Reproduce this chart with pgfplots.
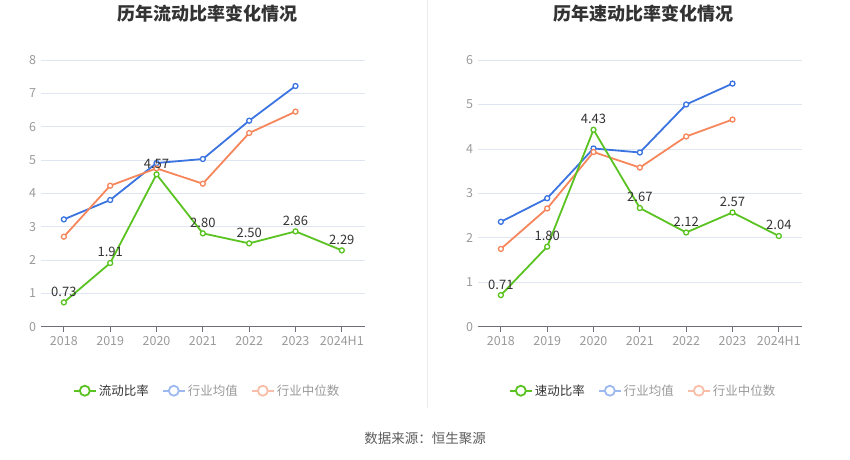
\documentclass[border=0pt]{standalone}
\usepackage{pgfplots}
\pgfplotsset{compat=1.18}
\usepackage{fontspec}
\setmainfont{Noto Sans CJK SC}

\definecolor{cgreen}{HTML}{5AC322}
\definecolor{cblue}{HTML}{3B74E0}
\definecolor{corange}{HTML}{F6865B}
\definecolor{cblueL}{HTML}{9DB9F0}
\definecolor{corangeL}{HTML}{F9BEA8}
\definecolor{gridc}{HTML}{E0E6F1}
\definecolor{axisc}{HTML}{6E7079}
\definecolor{tickc}{HTML}{9A9A9A}
\definecolor{txt}{HTML}{333333}
\definecolor{legc}{HTML}{999999}

\pgfplotsset{
  ratiochart/.style={
    width=324.3pt, height=266.7pt, scale only axis,
    xmin=-0.5, xmax=6.5, ymin=0,
    xtick={0,...,6},
    xticklabels={2018,2019,2020,2021,2022,2023,2024H1},
    axis x line*=bottom, axis y line*=left,
    y axis line style={draw=none},
    x axis line style={draw=axisc, line width=0.8pt},
    xtick align=outside, xtick pos=lower, ytick style={draw=none},
    xtick style={draw=axisc, line width=0.8pt}, major tick length=5pt,
    ymajorgrids, grid style={draw=gridc, line width=0.7pt},
    tick label style={font=\fontsize{12.5}{14}\selectfont, color=tickc},
    /pgf/number format/assume math mode=true,
    yticklabel style={xshift=-1pt},
    xticklabel style={yshift=-1pt},
    title style={font=\bfseries\fontsize{18}{21}\selectfont, color=txt, anchor=center},
    legend columns=3,
    legend style={draw=none, fill=none, anchor=center,
      font=\fontsize{12.5}{14}\selectfont,
      /tikz/every even column/.append style={column sep=11pt}},
    legend image code/.code={
      \draw[##1, line width=2pt] (0pt,0pt) -- (22pt,0pt);
      \draw[##1, line width=1.8pt, fill=white] (11pt,0pt) circle (5pt);
    },
    every axis plot/.append style={line width=1.8pt, mark=*, mark size=2.5pt},
  },
  ser/.style={color=#1, mark options={fill=white, draw=#1, line width=1.3pt}},
}

\begin{document}
\begin{tikzpicture}
\path[use as bounding box] (0,0) rectangle (850pt,-459pt);
\draw[color=gray!15, line width=0.8pt] (427pt,0pt) -- (427pt,-408pt);

% left chart: current ratio
\begin{axis}[ratiochart,
  at={(40.7pt,-326.7pt)}, anchor=south west,
  ymax=8, ytick={0,1,...,8},
  title={历年流动比率变化情况},
  title style={at={(0.513,1.15)}},
  legend style={at={(0.513,-0.24)}},
]
\addlegendimage{draw=cgreen}
\addlegendentry{\textcolor{txt}{流动比率}}
\addlegendimage{draw=cblueL}
\addlegendentry{\textcolor{legc}{行业均值}}
\addlegendimage{draw=corangeL}
\addlegendentry{\textcolor{legc}{行业中位数}}
\addplot[ser=cblue, forget plot] coordinates {
(0,3.22) (1,3.80) (2,4.91) (3,5.03) (4,6.18) (5,7.22)};
\addplot[ser=corange, forget plot] coordinates {
(0,2.70) (1,4.23) (2,4.75) (3,4.29) (4,5.81) (5,6.45)};
\addplot[ser=cgreen, forget plot,
  nodes near coords={\pgfmathprintnumber[fixed,fixed zerofill,precision=2]{\pgfplotspointmeta}},
  every node near coord/.append style={font=\fontsize{13}{15}\selectfont, color=txt, yshift=2pt}]
coordinates {
(0,0.73) (1,1.91) (2,4.57) (3,2.80) (4,2.50) (5,2.86) (6,2.29)};
\end{axis}

% right chart: quick ratio
\begin{axis}[ratiochart,
  at={(477.7pt,-326.7pt)}, anchor=south west,
  ymax=6, ytick={0,1,...,6},
  title={历年速动比率变化情况},
  title style={at={(0.51,1.15)}},
  legend style={at={(0.51,-0.24)}},
]
\addlegendimage{draw=cgreen}
\addlegendentry{\textcolor{txt}{速动比率}}
\addlegendimage{draw=cblueL}
\addlegendentry{\textcolor{legc}{行业均值}}
\addlegendimage{draw=corangeL}
\addlegendentry{\textcolor{legc}{行业中位数}}
\addplot[ser=cblue, forget plot] coordinates {
(0,2.36) (1,2.89) (2,4.01) (3,3.92) (4,5.00) (5,5.47)};
\addplot[ser=corange, forget plot] coordinates {
(0,1.75) (1,2.66) (2,3.93) (3,3.58) (4,4.28) (5,4.66)};
\addplot[ser=cgreen, forget plot,
  nodes near coords={\pgfmathprintnumber[fixed,fixed zerofill,precision=2]{\pgfplotspointmeta}},
  every node near coord/.append style={font=\fontsize{13}{15}\selectfont, color=txt, yshift=2pt}]
coordinates {
(0,0.71) (1,1.80) (2,4.43) (3,2.67) (4,2.12) (5,2.57) (6,2.04)};
\end{axis}

\node[font=\fontsize{13.5}{15}\selectfont, color=txt!80] at (425pt,-438pt) {数据来源：恒生聚源};
\end{tikzpicture}
\end{document}
